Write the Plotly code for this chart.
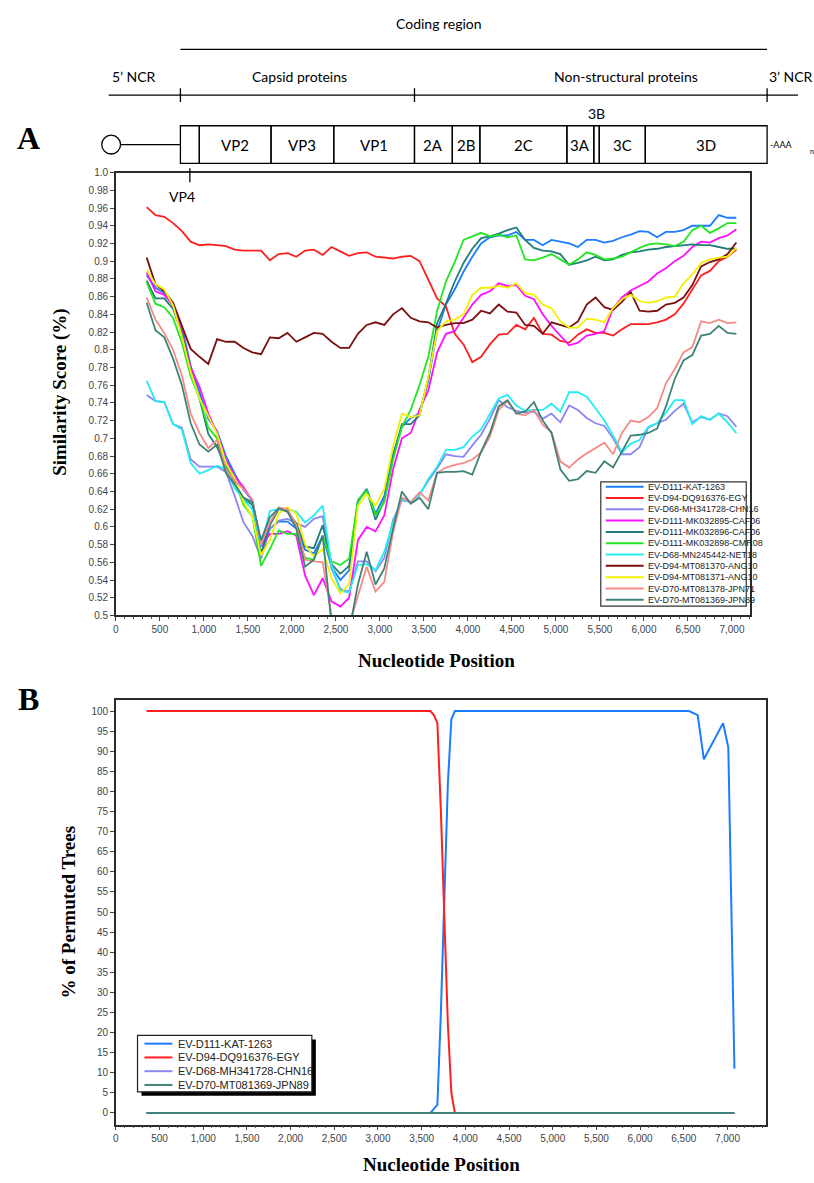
import plotly.graph_objects as go

W, H = 814, 1183

# ---------------- Panel A data (similarity score vs nucleotide position) ----------------
positions = list(range(350, 7051, 100))

names_a = ["EV-D111-KAT-1263", "EV-D94-DQ916376-EGY", "EV-D68-MH341728-CHN16",
           "EV-D111-MK032895-CAF06", "EV-D111-MK032896-CAF06", "EV-D111-MK032898-CMR08",
           "EV-D68-MN245442-NET18", "EV-D94-MT081370-ANG10", "EV-D94-MT081371-ANG10",
           "EV-D70-MT081378-JPN71", "EV-D70-MT081369-JPN89"]
colors_a = ["#1a7cff", "#ff1f1f", "#8c86f2", "#ff10ff", "#237b7b", "#22e622",
            "#22eef2", "#7a0f0f", "#f2f200", "#f58b86", "#3f8279"]

kat_1263 = [0.884, 0.870, 0.864, 0.852, 0.826, 0.782, 0.752, 0.722, 0.708, 0.680,
            0.660, 0.642, 0.630, 0.578, 0.598, 0.606, 0.606, 0.598, 0.574, 0.570,
            0.590, 0.555, 0.540, 0.551, 0.628, 0.643, 0.615, 0.635, 0.682, 0.713,
            0.723, 0.728, 0.765, 0.821, 0.851, 0.868, 0.888, 0.905, 0.920, 0.927,
            0.929, 0.929, 0.933, 0.924, 0.924, 0.918, 0.924, 0.922, 0.920, 0.916,
            0.924, 0.924, 0.921, 0.923, 0.927, 0.930, 0.934, 0.933, 0.927, 0.933,
            0.933, 0.935, 0.940, 0.940, 0.940, 0.952, 0.949, 0.949]
egy = [0.961, 0.952, 0.950, 0.943, 0.934, 0.922, 0.918, 0.919, 0.918, 0.917,
       0.913, 0.912, 0.912, 0.912, 0.901, 0.908, 0.909, 0.905, 0.912, 0.913,
       0.907, 0.916, 0.911, 0.906, 0.909, 0.910, 0.905, 0.904, 0.903, 0.905,
       0.906, 0.900, 0.878, 0.858, 0.849, 0.818, 0.806, 0.786, 0.792, 0.806,
       0.817, 0.818, 0.828, 0.823, 0.836, 0.818, 0.817, 0.810, 0.808, 0.817,
       0.823, 0.819, 0.819, 0.816, 0.823, 0.829, 0.829, 0.829, 0.831, 0.834,
       0.840, 0.852, 0.868, 0.884, 0.889, 0.900, 0.905, 0.913]
chn16 = [0.749, 0.742, 0.741, 0.716, 0.712, 0.676, 0.668, 0.668, 0.668, 0.662,
         0.635, 0.605, 0.590, 0.564, 0.598, 0.607, 0.609, 0.604, 0.600, 0.609,
         0.612, 0.553, 0.530, 0.527, 0.561, 0.561, 0.550, 0.565, 0.608, 0.630,
         0.628, 0.636, 0.652, 0.666, 0.682, 0.680, 0.679, 0.692, 0.704, 0.722,
         0.743, 0.735, 0.731, 0.729, 0.730, 0.722, 0.728, 0.718, 0.737, 0.732,
         0.723, 0.717, 0.714, 0.700, 0.682, 0.682, 0.690, 0.712, 0.717, 0.721,
         0.731, 0.739, 0.718, 0.724, 0.721, 0.728, 0.725, 0.713]
caf06_895 = [0.887, 0.866, 0.862, 0.850, 0.820, 0.780, 0.758, 0.728, 0.706, 0.676,
             0.657, 0.645, 0.630, 0.578, 0.592, 0.592, 0.595, 0.590, 0.545, 0.523,
             0.542, 0.516, 0.510, 0.520, 0.585, 0.600, 0.595, 0.613, 0.665, 0.700,
             0.706, 0.732, 0.754, 0.797, 0.818, 0.821, 0.836, 0.851, 0.862, 0.866,
             0.875, 0.872, 0.873, 0.861, 0.857, 0.840, 0.827, 0.816, 0.805, 0.808,
             0.816, 0.818, 0.821, 0.847, 0.859, 0.867, 0.872, 0.877, 0.886, 0.892,
             0.900, 0.906, 0.916, 0.922, 0.921, 0.926, 0.929, 0.936]
caf06_896 = [0.878, 0.858, 0.858, 0.846, 0.818, 0.776, 0.745, 0.705, 0.690, 0.668,
             0.650, 0.632, 0.625, 0.570, 0.602, 0.620, 0.618, 0.604, 0.578, 0.576,
             0.602, 0.558, 0.547, 0.556, 0.630, 0.642, 0.608, 0.630, 0.680, 0.716,
             0.716, 0.726, 0.768, 0.830, 0.852, 0.877, 0.898, 0.914, 0.926, 0.928,
             0.931, 0.935, 0.938, 0.924, 0.915, 0.912, 0.911, 0.908, 0.896, 0.898,
             0.901, 0.905, 0.901, 0.902, 0.907, 0.910, 0.911, 0.913, 0.914, 0.916,
             0.917, 0.918, 0.919, 0.918, 0.918, 0.916, 0.914, 0.914]
cmr08 = [0.876, 0.852, 0.848, 0.836, 0.808, 0.770, 0.745, 0.712, 0.700, 0.672,
         0.652, 0.625, 0.612, 0.556, 0.575, 0.596, 0.592, 0.592, 0.565, 0.563,
         0.590, 0.561, 0.557, 0.564, 0.630, 0.641, 0.613, 0.628, 0.676, 0.713,
         0.732, 0.760, 0.792, 0.844, 0.877, 0.899, 0.924, 0.928, 0.932, 0.928,
         0.930, 0.927, 0.929, 0.902, 0.901, 0.904, 0.908, 0.902, 0.896, 0.902,
         0.910, 0.907, 0.902, 0.903, 0.905, 0.910, 0.915, 0.919, 0.920, 0.919,
         0.917, 0.922, 0.935, 0.940, 0.932, 0.937, 0.943, 0.943]
net18 = [0.765, 0.742, 0.741, 0.716, 0.710, 0.672, 0.660, 0.664, 0.669, 0.665,
         0.644, 0.631, 0.620, 0.579, 0.618, 0.620, 0.620, 0.617, 0.605, 0.613,
         0.624, 0.557, 0.528, 0.526, 0.557, 0.558, 0.551, 0.572, 0.605, 0.631,
         0.628, 0.636, 0.654, 0.668, 0.687, 0.687, 0.690, 0.702, 0.710, 0.728,
         0.745, 0.749, 0.737, 0.731, 0.732, 0.732, 0.739, 0.730, 0.752, 0.752,
         0.747, 0.734, 0.720, 0.703, 0.684, 0.694, 0.698, 0.713, 0.717, 0.729,
         0.743, 0.743, 0.716, 0.725, 0.721, 0.728, 0.718, 0.706]
ang10_370 = [0.904, 0.874, 0.866, 0.853, 0.827, 0.801, 0.792, 0.784, 0.812, 0.809,
             0.809, 0.802, 0.797, 0.795, 0.814, 0.813, 0.819, 0.809, 0.814, 0.819,
             0.818, 0.809, 0.802, 0.802, 0.818, 0.828, 0.831, 0.828, 0.840, 0.847,
             0.836, 0.832, 0.831, 0.825, 0.828, 0.830, 0.830, 0.834, 0.844, 0.841,
             0.851, 0.843, 0.842, 0.828, 0.827, 0.818, 0.831, 0.828, 0.825, 0.832,
             0.851, 0.859, 0.848, 0.845, 0.854, 0.865, 0.844, 0.843, 0.844, 0.851,
             0.853, 0.859, 0.873, 0.894, 0.899, 0.902, 0.908, 0.921]
ang10_371 = [0.890, 0.874, 0.868, 0.850, 0.815, 0.775, 0.745, 0.725, 0.705, 0.672,
             0.655, 0.628, 0.612, 0.568, 0.585, 0.615, 0.622, 0.615, 0.580, 0.566,
             0.575, 0.542, 0.525, 0.535, 0.624, 0.637, 0.624, 0.643, 0.691, 0.728,
             0.724, 0.726, 0.769, 0.821, 0.832, 0.834, 0.840, 0.862, 0.870, 0.870,
             0.872, 0.870, 0.875, 0.864, 0.862, 0.851, 0.847, 0.832, 0.825, 0.825,
             0.835, 0.834, 0.831, 0.847, 0.857, 0.862, 0.855, 0.853, 0.855, 0.859,
             0.860, 0.875, 0.885, 0.898, 0.902, 0.904, 0.905, 0.915]
jpn71 = [0.859, 0.834, 0.819, 0.800, 0.771, 0.728, 0.706, 0.689, 0.698, 0.665,
         0.652, 0.643, 0.631, 0.581, 0.605, 0.622, 0.620, 0.602, 0.563, 0.561,
         0.560, 0.500, 0.485, 0.488, 0.522, 0.555, 0.527, 0.538, 0.594, 0.633,
         0.628, 0.639, 0.630, 0.661, 0.667, 0.670, 0.672, 0.676, 0.684, 0.702,
         0.732, 0.742, 0.728, 0.726, 0.732, 0.715, 0.707, 0.674, 0.667, 0.676,
         0.683, 0.689, 0.695, 0.682, 0.706, 0.720, 0.718, 0.724, 0.734, 0.762,
         0.778, 0.797, 0.803, 0.832, 0.830, 0.834, 0.830, 0.831]
jpn89 = [0.853, 0.822, 0.814, 0.790, 0.760, 0.717, 0.693, 0.685, 0.693, 0.661,
         0.648, 0.633, 0.628, 0.585, 0.611, 0.621, 0.617, 0.598, 0.555, 0.563,
         0.590, 0.490, 0.480, 0.482, 0.535, 0.572, 0.535, 0.553, 0.598, 0.640,
         0.626, 0.633, 0.620, 0.661, 0.662, 0.662, 0.663, 0.659, 0.685, 0.706,
         0.736, 0.743, 0.728, 0.730, 0.741, 0.720, 0.706, 0.665, 0.652, 0.654,
         0.663, 0.661, 0.674, 0.667, 0.685, 0.703, 0.704, 0.706, 0.711, 0.736,
         0.767, 0.788, 0.794, 0.816, 0.818, 0.827, 0.819, 0.818]

series_a = [kat_1263, egy, chn16, caf06_895, caf06_896, cmr08,
            net18, ang10_370, ang10_371, jpn71, jpn89]

ytick_vals_a = [0.5, 0.52, 0.54, 0.56, 0.58, 0.6, 0.62, 0.64, 0.66, 0.68, 0.7, 0.72, 0.74,
                0.76, 0.78, 0.8, 0.82, 0.84, 0.86, 0.88, 0.9, 0.92, 0.94, 0.96, 0.98, 1.0]
ytick_text_a = ["0.5", "0.52", "0.54", "0.56", "0.58", "0.6", "0.62", "0.64", "0.66", "0.68",
                "0.7", "0.72", "0.74", "0.76", "0.78", "0.8", "0.82", "0.84", "0.86", "0.88",
                "0.9", "0.92", "0.94", "0.96", "0.98", "1.0"]

# ---------------- Panel B data (% of permuted trees, bootscan) ----------------
positions_b = [350, 3600, 3640, 3680, 3720, 3760, 3800, 3840, 3880, 6560, 6660, 6730, 6950, 7010, 7080]
b_kat_1263 = [0, 0, 1, 2, 25, 55, 82, 98, 100, 100, 99, 88, 97, 91, 11]
b_egy = [100, 100, 99, 97, 75, 48, 22, 5, 0, 0, 0, 0, 0, 0, 0]
b_chn16 = [0, 0, 0, 0, 0, 0, 0, 0, 0, 0, 0, 0, 0, 0, 0]
b_jpn89 = [0, 0, 0, 0, 0, 0, 0, 0, 0, 0, 0, 0, 0, 0, 0]
names_b = ["EV-D111-KAT-1263", "EV-D94-DQ916376-EGY", "EV-D68-MH341728-CHN16", "EV-D70-MT081369-JPN89"]
colors_b = ["#1a7cff", "#ff1f1f", "#8c86f2", "#3f8279"]
series_b = [b_kat_1263, b_egy, b_chn16, b_jpn89]

# ---------------- Genome map (nucleotide coordinates) ----------------
gene_names = ["VP4", "VP2", "VP3", "VP1", "2A", "2B", "2C", "3A", "3B", "3C", "3D"]
gene_starts = [733, 948, 1763, 2476, 3393, 3823, 4136, 5125, 5431, 5493, 6016]
gene_end = 7400

# ---------------- helpers for paper placement ----------------
def fx(p):
    return p / W

def fy(p):
    return 1 - p / H

fig = go.Figure()

for name, color, vals in zip(names_a, colors_a, series_a):
    fig.add_trace(go.Scatter(x=positions, y=vals, mode="lines", name=name,
                             line=dict(color=color, width=1.8),
                             xaxis="x", yaxis="y", showlegend=False))

for name, color, vals in zip(names_b, colors_b, series_b):
    fig.add_trace(go.Scatter(x=positions_b, y=vals, mode="lines", name=name,
                             line=dict(color=color, width=2),
                             xaxis="x2", yaxis="y2", showlegend=False))

tickfont = dict(family="Liberation Sans, Arial", size=10, color="#444")
axis_common = dict(showline=True, mirror=True, linecolor="#2b2b2b", linewidth=1.6,
                   ticks="outside", ticklen=4, tickcolor="#444", tickwidth=1,
                   tickfont=tickfont, showgrid=False, zeroline=False)
minor_x = dict(dtick=100, ticklen=2, ticks="outside", tickcolor="#555")

fig.update_layout(
    width=W, height=H, margin=dict(l=0, r=0, t=0, b=0),
    paper_bgcolor="white", plot_bgcolor="rgba(0,0,0,0)",
    showlegend=False,
    xaxis=dict(domain=[fx(113.3), fx(749.3)], range=[0, 7200], anchor="y",
               tickmode="linear", tick0=0, dtick=500, tickformat=",d", minor=minor_x, **axis_common),
    yaxis=dict(domain=[fy(615.7), fy(168.3)], range=[0.5, 1.0], anchor="x",
               tickmode="array", tickvals=ytick_vals_a, ticktext=ytick_text_a, **axis_common),
    xaxis2=dict(domain=[fx(113.3), fx(765.7)], range=[0, 7440], anchor="y2",
                tickmode="linear", tick0=0, dtick=500, tickformat=",d", minor=minor_x, **axis_common),
    yaxis2=dict(domain=[fy(1130), fy(700.7)], range=[-2.88, 102.86], anchor="x2",
                tickmode="linear", tick0=0, dtick=5, **axis_common),
    xaxis3=dict(domain=[0, 1], range=[-1283, 7933], anchor="y3", visible=False),
    yaxis3=dict(domain=[fy(215), 1], range=[215, 0], anchor="x3", visible=False),
)

shapes = []
annotations = []
blk = dict(color="black", width=1.3)

def map_line(x0, y0, x1, y1, width=1.3):
    shapes.append(dict(type="line", xref="x3", yref="y3", x0=x0, y0=y0, x1=x1, y1=y1,
                       line=dict(color="black", width=width)))

def map_text(x, y, text, size=14, xanchor="center"):
    annotations.append(dict(xref="x3", yref="y3", x=x, y=y, text=text, showarrow=False,
                            xanchor=xanchor, yanchor="middle",
                            font=dict(family="Lato, Open Sans, sans-serif", size=size, color="black")))

# coding region bracket line and labels
map_line(gene_starts[0], 43.8, gene_end, 43.8)
map_text(3676, 18, "Coding region")
map_line(-83, 90, 7751, 90)
for xb in [gene_starts[0], gene_starts[4], gene_end]:
    map_line(xb, 83, xb, 97)
map_text(206, 71, "5’ NCR")
map_text(2087, 71, "Capsid proteins")
map_text(5793, 71, "Non-structural proteins")
map_text(7672, 71, "3’ NCR")

# 5' cloverleaf symbol and stem
shapes.append(dict(type="circle", xref="x3", yref="y3", x0=-54 - 107, x1=-54 + 107,
                   y0=130.5, y1=149.5, line=blk, fillcolor="white"))
map_line(53, 140, gene_starts[0], 140)

# gene boxes
bounds = gene_starts + [gene_end]
for i, gname in enumerate(gene_names):
    shapes.append(dict(type="rect", xref="x3", yref="y3", x0=bounds[i], x1=bounds[i + 1],
                       y0=121, y1=159, line=dict(color="black", width=1.3)))
    if gname not in ("VP4", "3B"):
        map_text((bounds[i] + bounds[i + 1]) / 2, 140, gname, size=15)
i3b = gene_names.index("3B")
map_text((bounds[i3b] + bounds[i3b + 1]) / 2, 109, "3B", size=14)
i4 = gene_names.index("VP4")
map_line((bounds[i4] + bounds[i4 + 1]) / 2, 164, (bounds[i4] + bounds[i4 + 1]) / 2, 178)
map_text(755, 192, "VP4", size=14)
map_text(7411, 140, "-AAA", size=9, xanchor="left")
map_text(7860, 146, "n", size=7, xanchor="left")

# panel letters and axis titles
serif_bold = dict(family="Liberation Serif, Times New Roman, serif", size=19, color="black", weight="bold")
letter_font = dict(family="Liberation Serif, Times New Roman, serif", size=32, color="black", weight="bold")
annotations.append(dict(xref="paper", yref="paper", x=fx(26), y=fy(133), text="A", showarrow=False,
                        xanchor="center", yanchor="middle", font=letter_font))
annotations.append(dict(xref="paper", yref="paper", x=fx(26), y=fy(700), text="B", showarrow=False,
                        xanchor="center", yanchor="middle", font=letter_font))
annotations.append(dict(xref="paper", yref="paper", x=fx(435), y=fy(661), text="Nucleotide Position",
                        showarrow=False, xanchor="center", yanchor="middle", font=serif_bold))
annotations.append(dict(xref="paper", yref="paper", x=fx(440), y=fy(1170), text="Nucleotide Position",
                        showarrow=False, xanchor="center", yanchor="middle", font=serif_bold))
annotations.append(dict(xref="paper", yref="paper", x=fx(57), y=fy(390), text="Similarity Score (%)",
                        showarrow=False, xanchor="center", yanchor="middle", textangle=-90, font=serif_bold))
annotations.append(dict(xref="paper", yref="paper", x=fx(66), y=fy(915), text="% of Permuted Trees",
                        showarrow=False, xanchor="center", yanchor="middle", textangle=-90, font=serif_bold))

# legend A (drawn box)
shapes.append(dict(type="rect", xref="paper", yref="paper", x0=fx(600), x1=fx(746),
                   y0=fy(606.3), y1=fy(480.7), line=dict(color="#333", width=1.2), fillcolor="white",
                   layer="above"))
for i, (name, color) in enumerate(zip(names_a, colors_a)):
    ry = 485.6 + i * 11.43
    shapes.append(dict(type="line", xref="paper", yref="paper", x0=fx(605), x1=fx(643),
                       y0=fy(ry), y1=fy(ry), line=dict(color=color, width=2)))
    annotations.append(dict(xref="paper", yref="paper", x=fx(645), y=fy(ry), text=name,
                            showarrow=False, xanchor="left", yanchor="middle",
                            font=dict(family="Liberation Sans, Arial", size=9, color="#222")))

# legend B (drawn box with shadow)
shapes.append(dict(type="rect", xref="paper", yref="paper", x0=fx(139), x1=fx(314),
                   y0=fy(1101), y1=fy(1044), line=dict(color="black", width=0), fillcolor="black",
                   layer="above"))
shapes.append(dict(type="rect", xref="paper", yref="paper", x0=fx(135), x1=fx(310),
                   y0=fy(1097), y1=fy(1040), line=dict(color="#222", width=1.2), fillcolor="white",
                   layer="above"))
for i, (name, color) in enumerate(zip(names_b, colors_b)):
    ry = 1048.3 + i * 13.9
    shapes.append(dict(type="line", xref="paper", yref="paper", x0=fx(142), x1=fx(170),
                       y0=fy(ry), y1=fy(ry), line=dict(color=color, width=2)))
    annotations.append(dict(xref="paper", yref="paper", x=fx(174), y=fy(ry), text=name,
                            showarrow=False, xanchor="left", yanchor="middle",
                            font=dict(family="Liberation Sans, Arial", size=11, color="#222")))

fig.update_layout(shapes=shapes, annotations=annotations)
fig.write_html("out.html")
